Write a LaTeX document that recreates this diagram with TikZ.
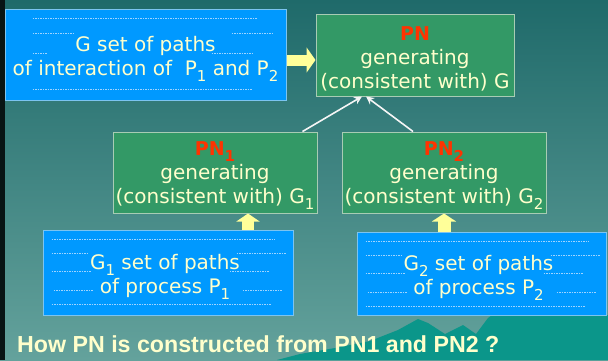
\documentclass[tikz,border=0pt]{standalone}
\usepackage{fontspec}
\setmainfont{DejaVu Sans}
\newfontfamily\headfont{Liberation Sans}
\usetikzlibrary{arrows.meta,calc}

\definecolor{bgtop}{HTML}{1F6A6A}
\definecolor{bgbot}{HTML}{64A29C}
\definecolor{wave}{HTML}{0B968A}
\definecolor{stripdark}{HTML}{081414}
\definecolor{boxblue}{HTML}{0099FF}
\definecolor{blueedge}{HTML}{7CC4F0}
\definecolor{boxgreen}{HTML}{339966}
\definecolor{greenedge}{HTML}{A8CCB4}
\definecolor{paleyellow}{HTML}{FFFFCC}
\definecolor{arrowyellow}{HTML}{FFFF99}
\definecolor{pnred}{HTML}{FF3300}
\definecolor{ruleblue}{HTML}{A0D4FF}

% lowered, slightly smaller index digits
\newcommand{\lowsub}[1]{\raisebox{-6pt}{\fontsize{15}{15}\selectfont #1}}
\newcommand{\pnlabel}[1]{{\color{pnred}\fontsize{19}{24}\selectfont\bfseries PN#1}}

\begin{document}
\begin{tikzpicture}[x=1pt,y=-1pt,
  boxtext/.style={text=paleyellow, align=center, inner sep=0pt,
    font=\fontsize{20}{24}\selectfont},
  pathbox/.style={fill=boxblue, draw=blueedge, line width=1pt, inner sep=0pt},
  netbox/.style={fill=boxgreen, draw=greenedge, line width=1pt, inner sep=0pt},
  rule/.style={ruleblue, line width=0.5pt, dash pattern=on 1.5pt off 1pt},
  fatarrow/.style={arrowyellow, line width=#1},
  feed/.style={line width=1.6pt, white!92!gray,
    -{Stealth[length=8pt,width=8pt]}}]

\useasboundingbox (0,0) rectangle (608,360);

% backdrop
\shade[top color=bgtop, bottom color=bgbot] (0,0) rectangle (608,360);
\fill[wave] (277,360) -- (300,354) -- (335,348) -- (370,341) -- (398,330)
  -- (418,319) -- (428,323) -- (445,334) -- (463,325) -- (476,334)
  -- (488,318) -- (492,315) -- (608,315) -- (608,360) -- cycle;
\fill[stripdark] (0,0) rectangle (5,360);

% box frames
\node[pathbox, minimum width=281pt, minimum height=91pt] (gset) at (145.5,54.5) {};
\node[netbox, minimum width=198pt, minimum height=82pt] (pn) at (415,55) {};
\node[netbox, minimum width=204pt, minimum height=81pt] (pna) at (215,172.5) {};
\node[netbox, minimum width=204pt, minimum height=81pt] (pnb) at (444,172.5) {};
\node[pathbox, minimum width=250pt, minimum height=85pt] (ga) at (168,272.5) {};
\node[pathbox, minimum width=249pt, minimum height=83pt] (gb) at (481.5,273.5) {};

% dotted text-frame rules inside the blue boxes
\begin{scope}[shift={(gset.north west)}]
  \draw[rule] (28,10) -- (253,10);
  \draw[rule] (28,25) -- (69,25);  \draw[rule] (227,25) -- (268,25);
  \draw[rule] (28,45) -- (43,45);  \draw[rule] (207,45) -- (248,45);
  \draw[rule] (28,81) -- (248,81);
\end{scope}
\foreach \b in {ga,gb}{
  \begin{scope}[shift={(\b.north west)}]
    \draw[rule] (9,10) -- (232,10);
    \draw[rule] (9,24) -- (45,24);  \draw[rule] (194,24) -- (244,24);
    \draw[rule] (9,42) -- (49,42);  \draw[rule] (187,42) -- (227,42);
    \draw[rule] (11,61) -- (50,61); \draw[rule] (200,61) -- (240,61);
    \draw[rule] (9,75) -- (229,75);
  \end{scope}
}

% box texts
\node[boxtext] (gset-text) at ([yshift=-4pt]gset.center)
  {G set of paths\\of interaction of~~P\lowsub{1} and P\lowsub{2}};
\node[boxtext] (pn-text) at ([yshift=-4pt]pn.center)
  {\pnlabel{}\\generating\\(consistent with) G};
\node[boxtext] (pna-text) at ([yshift=-3.5pt]pna.center)
  {\pnlabel{\lowsub{1}}\\generating\\(consistent with) G\lowsub{1}};
\node[boxtext] (pnb-text) at ([yshift=-3.5pt]pnb.center)
  {\pnlabel{\lowsub{2}}\\generating\\(consistent with) G\lowsub{2}};
\node[boxtext] (ga-text) at ([xshift=-3pt,yshift=-4.5pt]ga.center)
  {G\lowsub{1} set of paths\\of process P\lowsub{1}};
\node[boxtext] (gb-text) at ([xshift=-3pt,yshift=-4pt]gb.center)
  {G\lowsub{2} set of paths\\of process P\lowsub{2}};

% connectors
\coordinate (ua) at (248,0);
\coordinate (ub) at (444,0);
\draw[fatarrow=11pt, -{Triangle[length=9pt,width=25pt]}]
  ([yshift=-5.5pt]gset.east) -- ([yshift=-5.5pt]gset.east -| pn.west);
\draw[fatarrow=12pt, -{Triangle[length=8pt,width=23pt]}]
  (ga.north -| ua) -- (pna.south -| ua);
\draw[fatarrow=13pt, -{Triangle[length=8pt,width=24pt]}]
  (gb.north -| ub) -- (pnb.south -| ub);
\draw[feed] ([xshift=-15pt]pna.north east) -- ([xshift=-53pt]pn.south);
\draw[feed] ([xshift=-31pt]pnb.north) -- ([xshift=-49pt]pn.south);

% question
\node[anchor=base west, inner sep=0pt, text=paleyellow,
  font=\headfont\bfseries\fontsize{23.2}{23.2}\selectfont] (question) at (17,352)
  {How PN is constructed from PN1 and PN2 ?};
\end{tikzpicture}
\end{document}
